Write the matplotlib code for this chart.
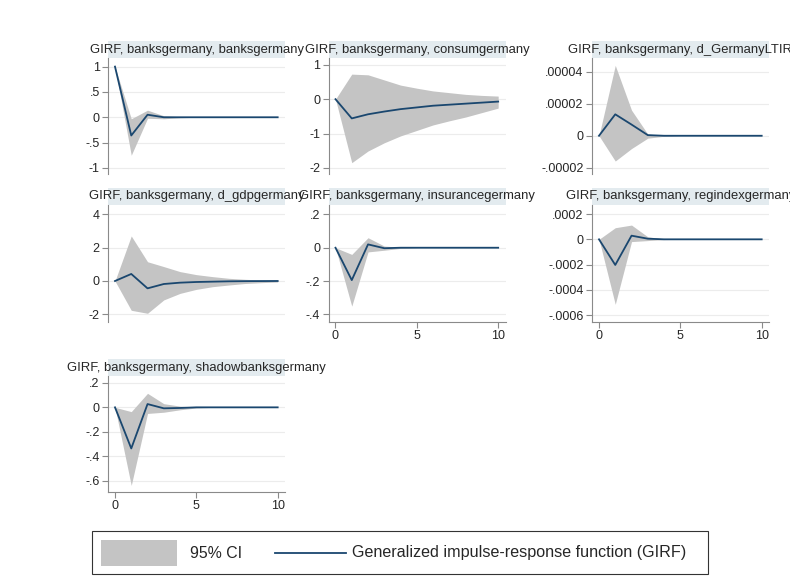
import matplotlib
matplotlib.use("Agg")
import matplotlib.pyplot as plt
from matplotlib.patches import Rectangle
from matplotlib.lines import Line2D

plt.rcParams['font.family'] = ['Liberation Sans', 'DejaVu Sans']

steps = list(range(11))

titles = [
    "GIRF, banksgermany, banksgermany",
    "GIRF, banksgermany, consumgermany",
    "GIRF, banksgermany, d_GermanyLTIR",
    "GIRF, banksgermany, d_gdpgermany",
    "GIRF, banksgermany, insurancegermany",
    "GIRF, banksgermany, regindexgermany",
    "GIRF, banksgermany, shadowbanksgermany",
]

# banks -> banks
girf_banks = [1.0, -0.36, 0.05, 0.0, 0.0, 0.0, 0.0, 0.0, 0.0, 0.0, 0.0]
lo_banks = [1.0, -0.75, -0.02, -0.03, -0.01, 0.0, 0.0, 0.0, 0.0, 0.0, 0.0]
hi_banks = [1.0, -0.03, 0.14, 0.03, 0.01, 0.0, 0.0, 0.0, 0.0, 0.0, 0.0]

# banks -> consum
girf_consum = [0.0, -0.56, -0.44, -0.36, -0.29, -0.24, -0.19, -0.16, -0.13, -0.10, -0.07]
lo_consum = [0.0, -1.85, -1.51, -1.27, -1.07, -0.91, -0.75, -0.63, -0.52, -0.39, -0.26]
hi_consum = [0.0, 0.73, 0.71, 0.56, 0.41, 0.32, 0.24, 0.19, 0.14, 0.11, 0.09]

# banks -> d_GermanyLTIR
girf_ltir = [0.0, 1.34e-5, 0.7e-5, 0.04e-5, 0.0, 0.0, 0.0, 0.0, 0.0, 0.0, 0.0]
lo_ltir = [0.0, -1.58e-5, -0.8e-5, -0.15e-5, -0.03e-5, 0.0, 0.0, 0.0, 0.0, 0.0, 0.0]
hi_ltir = [0.0, 4.4e-5, 1.6e-5, 0.1e-5, 0.03e-5, 0.0, 0.0, 0.0, 0.0, 0.0, 0.0]

# banks -> d_gdp
girf_gdp = [0.0, 0.42, -0.44, -0.18, -0.10, -0.06, -0.04, -0.02, -0.01, -0.005, 0.0]
lo_gdp = [0.0, -1.75, -1.93, -1.13, -0.74, -0.50, -0.34, -0.24, -0.15, -0.10, -0.06]
hi_gdp = [0.0, 2.69, 1.15, 0.86, 0.56, 0.38, 0.26, 0.16, 0.10, 0.06, 0.04]

# banks -> insurance
girf_ins = [0.0, -0.194, 0.02, -0.003, 0.0, 0.0, 0.0, 0.0, 0.0, 0.0, 0.0]
lo_ins = [0.0, -0.35, -0.025, -0.015, -0.004, 0.0, 0.0, 0.0, 0.0, 0.0, 0.0]
hi_ins = [0.0, -0.04, 0.06, 0.01, 0.003, 0.0, 0.0, 0.0, 0.0, 0.0, 0.0]

# banks -> regindex
girf_reg = [0.0, -2.03e-4, 0.29e-4, 0.05e-4, 0.0, 0.0, 0.0, 0.0, 0.0, 0.0, 0.0]
lo_reg = [0.0, -5.15e-4, -0.18e-4, -0.1e-4, -0.02e-4, 0.0, 0.0, 0.0, 0.0, 0.0, 0.0]
hi_reg = [0.0, 0.92e-4, 1.13e-4, 0.2e-4, 0.03e-4, 0.0, 0.0, 0.0, 0.0, 0.0, 0.0]

# banks -> shadowbanks
girf_shadow = [0.0, -0.337, 0.027, -0.008, -0.005, 0.0, 0.0, 0.0, 0.0, 0.0, 0.0]
lo_shadow = [0.0, -0.64, -0.05, -0.04, -0.02, -0.005, 0.0, 0.0, 0.0, 0.0, 0.0]
hi_shadow = [0.0, -0.035, 0.115, 0.03, 0.01, 0.003, 0.0, 0.0, 0.0, 0.0, 0.0]

yticks_list = [
    ([1, 0.5, 0, -0.5, -1], ["1", ".5", "0", "-.5", "-1"]),
    ([1, 0, -1, -2], ["1", "0", "-1", "-2"]),
    ([4e-5, 2e-5, 0, -2e-5], [".00004", ".00002", "0", "-.00002"]),
    ([4, 2, 0, -2], ["4", "2", "0", "-2"]),
    ([0.2, 0, -0.2, -0.4], [".2", "0", "-.2", "-.4"]),
    ([2e-4, 0, -2e-4, -4e-4, -6e-4], [".0002", "0", "-.0002", "-.0004", "-.0006"]),
    ([0.2, 0, -0.2, -0.4, -0.6], [".2", "0", "-.2", "-.4", "-.6"]),
]
xticks = [0, 5, 10]

legend_labels = ["95% CI", "Generalized impulse-response function (GIRF)"]

series = [
    (girf_banks, lo_banks, hi_banks),
    (girf_consum, lo_consum, hi_consum),
    (girf_ltir, lo_ltir, hi_ltir),
    (girf_gdp, lo_gdp, hi_gdp),
    (girf_ins, lo_ins, hi_ins),
    (girf_reg, lo_reg, hi_reg),
    (girf_shadow, lo_shadow, hi_shadow),
]

# layout (pixels)
W, H = 790, 586
col_x = [108, 328.5, 592]
col_w = 177
rows = [(58, 174), (205, 322), (376, 492)]
ylims = [
    (-1.12, 1.17), (-2.18, 1.2), (-2.39e-5, 4.86e-5),
    (-2.45, 4.54), (-0.445, 0.256), (-6.55e-4, 2.72e-4),
    (-0.694, 0.257),
]
show_x = [False, False, False, False, True, True, True]
positions = [(0, 0), (0, 1), (0, 2), (1, 0), (1, 1), (1, 2), (2, 0)]

fill_c = "#c4c4c4"
line_c = "#1a476f"
band_c = "#e3ebef"
axis_c = "#8a8a8a"
text_c = "#262626"

fig = plt.figure(figsize=(W / 100, H / 100), dpi=100)
fig.patch.set_facecolor("white")

for i, (r, c) in enumerate(positions):
    top, bot = rows[r]
    left = col_x[c]
    ax = fig.add_axes([left / W, 1 - bot / H, col_w / W, (bot - top) / H])
    g, lo, hi = series[i]
    ax.fill_between(steps, lo, hi, color=fill_c, linewidth=0, zorder=2)
    ax.plot(steps, g, color=line_c, lw=1.3, zorder=3)
    ax.set_xlim(-0.43, 10.45)
    ax.set_ylim(*ylims[i])
    yt, yl = yticks_list[i]
    ax.set_yticks(yt)
    ax.set_yticklabels(yl)
    for y in yt:
        ax.axhline(y, color="#ececec", lw=0.8, zorder=1)
    for s in ["top", "right"]:
        ax.spines[s].set_visible(False)
    ax.spines["left"].set_color(axis_c)
    ax.spines["left"].set_linewidth(0.8)
    if show_x[i]:
        ax.set_xticks(xticks)
        ax.spines["bottom"].set_color(axis_c)
        ax.spines["bottom"].set_linewidth(0.8)
    else:
        ax.set_xticks([])
        ax.spines["bottom"].set_visible(False)
    ax.tick_params(axis="both", colors=axis_c, labelcolor=text_c, labelsize=9,
                   length=4, width=0.8, pad=2)
    # title band
    bh = 17 / (bot - top)
    ax.add_patch(Rectangle((0, 1), 1, bh, transform=ax.transAxes, facecolor=band_c,
                           edgecolor="none", clip_on=False, zorder=0))
    ax.text(0.5, 1 + bh / 2, titles[i], transform=ax.transAxes, ha="center",
            va="center", fontsize=9.4, color=text_c, clip_on=False)

# legend
def fx(x):
    return x / W

def fy(y):
    return 1 - y / H

fig.add_artist(Rectangle((fx(92), fy(574)), fx(708) - fx(92), fy(531) - fy(574),
                         transform=fig.transFigure, facecolor="white",
                         edgecolor="#333333", lw=0.8))
fig.add_artist(Rectangle((fx(101), fy(566)), fx(177) - fx(101), fy(540) - fy(566),
                         transform=fig.transFigure, facecolor=fill_c, edgecolor="none"))
fig.text(fx(190), fy(553), legend_labels[0], fontsize=11.4, color=text_c,
         va="center", ha="left")
fig.add_artist(Line2D([fx(275), fx(346)], [fy(553), fy(553)], transform=fig.transFigure,
                      color=line_c, lw=1.3))
fig.text(fx(352), fy(553), legend_labels[1], fontsize=11.6,
         color=text_c, va="center", ha="left")

fig.savefig("out.png", dpi=100)
